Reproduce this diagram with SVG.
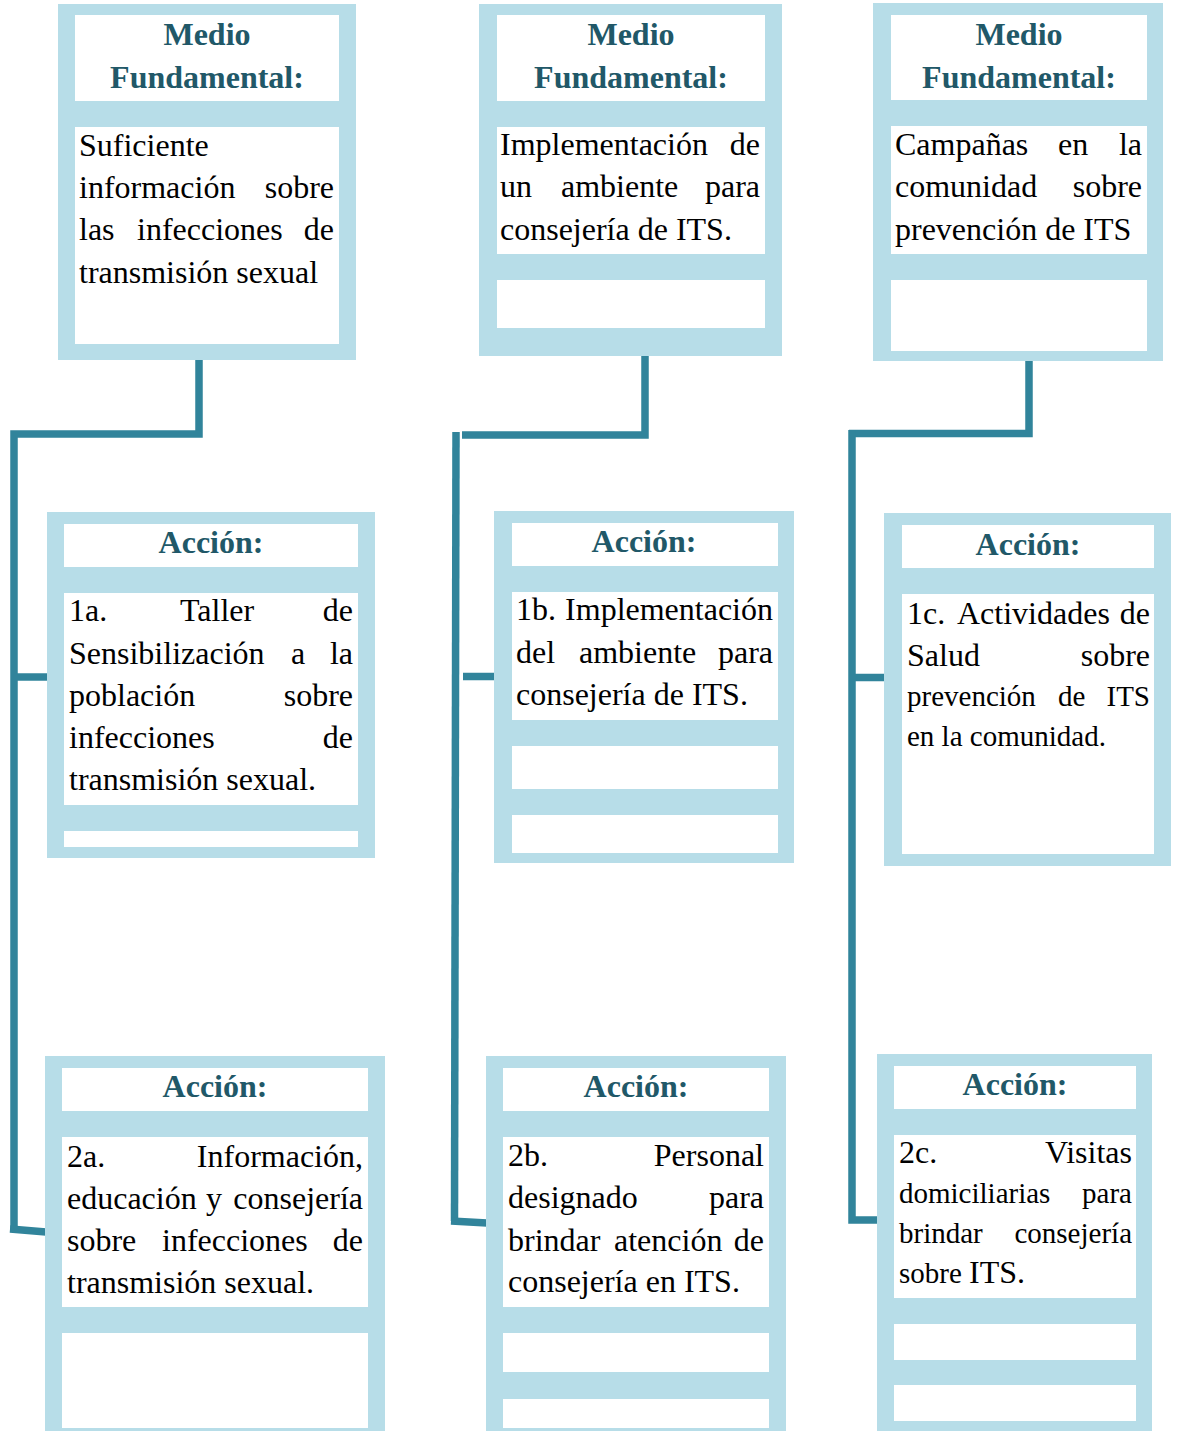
<svg xmlns="http://www.w3.org/2000/svg" width="1177" height="1431" viewBox="0 0 1177 1431">
<style>
.frame{fill:#B7DDE8}
.cell{fill:#FFFFFF}
.ttl{font-family:"Liberation Serif","Times New Roman",serif;font-weight:bold;font-size:32px;fill:#215868;text-anchor:middle}
.t{font-family:"Liberation Serif","Times New Roman",serif;font-size:32px;fill:#000}
.s{font-size:29px}
.e{text-anchor:end}
.conn{fill:none;stroke:#31849B;stroke-width:7.5;stroke-linecap:butt;stroke-linejoin:miter}
</style>
<rect width="1177" height="1431" fill="#FFFFFF"/>

<g id="connectors">
  <path class="conn" d="M199,360 V434 H14 V1229"/>
  <path class="conn" d="M10,1229 L46,1232"/>
  <path class="conn" d="M14,677 H49"/>
  <path class="conn" d="M645,356 V435 H462"/>
  <path class="conn" d="M456,432 L454.5,1221"/>
  <path class="conn" d="M451,1221 L487,1223"/>
  <path class="conn" d="M463,676.5 H499"/>
  <path class="conn" d="M1029,361 V433.5 H849"/>
  <path class="conn" d="M852,430 V1220 H882"/>
  <path class="conn" d="M852,677.5 H885"/>
</g>

<g id="mf1">
  <rect class="frame" x="58" y="4" width="298" height="356"/>
  <rect class="cell" x="75" y="15" width="264" height="86"/>
  <rect class="cell" x="75" y="127" width="264" height="217"/>
  <text class="ttl" x="207" y="45">Medio</text>
  <text class="ttl" x="207" y="88">Fundamental:</text>
  <text class="t" x="79" y="156">Suficiente</text>
  <text class="t" x="79" y="198">información</text><text class="t e" x="334" y="198">sobre</text>
  <text class="t" x="79" y="240">las</text><text class="t" x="137" y="240">infecciones</text><text class="t e" x="334" y="240">de</text>
  <text class="t" x="79" y="283">transmisión sexual</text>
</g>

<g id="mf2">
  <rect class="frame" x="479" y="4" width="303" height="352"/>
  <rect class="cell" x="497" y="15" width="268" height="86"/>
  <rect class="cell" x="497" y="127" width="268" height="127"/>
  <rect class="cell" x="497" y="280" width="268" height="48"/>
  <text class="ttl" x="631" y="45">Medio</text>
  <text class="ttl" x="631" y="88">Fundamental:</text>
  <text class="t" x="500" y="155">Implementación</text><text class="t e" x="760" y="155">de</text>
  <text class="t" x="500" y="197">un</text><text class="t" x="561" y="197">ambiente</text><text class="t e" x="760" y="197">para</text>
  <text class="t" x="500" y="240">consejería de ITS.</text>
</g>

<g id="mf3">
  <rect class="frame" x="873" y="3" width="290" height="358"/>
  <rect class="cell" x="891" y="15" width="256" height="85"/>
  <rect class="cell" x="891" y="126" width="256" height="128"/>
  <rect class="cell" x="891" y="280" width="256" height="71"/>
  <text class="ttl" x="1019" y="45">Medio</text>
  <text class="ttl" x="1019" y="88">Fundamental:</text>
  <text class="t" x="895" y="155">Campañas</text><text class="t" x="1058" y="155">en</text><text class="t e" x="1142" y="155">la</text>
  <text class="t" x="895" y="197">comunidad</text><text class="t e" x="1142" y="197">sobre</text>
  <text class="t" x="895" y="240">prevención de ITS</text>
</g>

<g id="a1a">
  <rect class="frame" x="47" y="512" width="328" height="346"/>
  <rect class="cell" x="64" y="524" width="294" height="43"/>
  <rect class="cell" x="64" y="593" width="294" height="212"/>
  <rect class="cell" x="64" y="831" width="294" height="16"/>
  <text class="ttl" x="211" y="553">Acción:</text>
  <text class="t" x="69" y="621">1a.</text><text class="t" x="180" y="621">Taller</text><text class="t e" x="353" y="621">de</text>
  <text class="t" x="69" y="664">Sensibilización</text><text class="t" x="291" y="664">a</text><text class="t e" x="353" y="664">la</text>
  <text class="t" x="69" y="706">población</text><text class="t e" x="353" y="706">sobre</text>
  <text class="t" x="69" y="748">infecciones</text><text class="t e" x="353" y="748">de</text>
  <text class="t" x="69" y="790">transmisión sexual.</text>
</g>

<g id="a1b">
  <rect class="frame" x="494" y="511" width="300" height="352"/>
  <rect class="cell" x="512" y="523" width="266" height="43"/>
  <rect class="cell" x="512" y="592" width="266" height="128"/>
  <rect class="cell" x="512" y="746" width="266" height="43"/>
  <rect class="cell" x="512" y="815" width="266" height="38"/>
  <text class="ttl" x="644" y="552">Acción:</text>
  <text class="t" x="516" y="620">1b.</text><text class="t e" x="773" y="620">Implementación</text>
  <text class="t" x="516" y="663">del</text><text class="t" x="579" y="663">ambiente</text><text class="t e" x="773" y="663">para</text>
  <text class="t" x="516" y="705">consejería de ITS.</text>
</g>

<g id="a1c">
  <rect class="frame" x="884" y="513" width="287" height="353"/>
  <rect class="cell" x="902" y="525" width="252" height="43"/>
  <rect class="cell" x="902" y="594" width="252" height="260"/>
  <text class="ttl" x="1028" y="555">Acción:</text>
  <text class="t" x="907" y="624">1c.</text><text class="t" x="957" y="624">Actividades</text><text class="t e" x="1150" y="624">de</text>
  <text class="t" x="907" y="666">Salud</text><text class="t e" x="1150" y="666">sobre</text>
  <text class="t s" x="907" y="706">prevención</text><text class="t s" x="1058" y="706">de</text><text class="t s e" x="1150" y="706">ITS</text>
  <text class="t s" x="907" y="746">en la comunidad.</text>
</g>

<g id="a2a">
  <rect class="frame" x="45" y="1056" width="340" height="380"/>
  <rect class="cell" x="62" y="1068" width="306" height="43"/>
  <rect class="cell" x="62" y="1137" width="306" height="170"/>
  <rect class="cell" x="62" y="1333" width="306" height="95"/>
  <text class="ttl" x="215" y="1097">Acción:</text>
  <text class="t" x="67" y="1167">2a.</text><text class="t e" x="363" y="1167">Información,</text>
  <text class="t" x="67" y="1209">educación</text><text class="t" x="206" y="1209">y</text><text class="t e" x="363" y="1209">consejería</text>
  <text class="t" x="67" y="1251">sobre</text><text class="t" x="162" y="1251">infecciones</text><text class="t e" x="363" y="1251">de</text>
  <text class="t" x="67" y="1293">transmisión sexual.</text>
</g>

<g id="a2b">
  <rect class="frame" x="486" y="1056" width="300" height="380"/>
  <rect class="cell" x="503" y="1068" width="266" height="43"/>
  <rect class="cell" x="503" y="1137" width="266" height="170"/>
  <rect class="cell" x="503" y="1333" width="266" height="39"/>
  <rect class="cell" x="503" y="1399" width="266" height="29"/>
  <text class="ttl" x="636" y="1097">Acción:</text>
  <text class="t" x="508" y="1166">2b.</text><text class="t e" x="764" y="1166">Personal</text>
  <text class="t" x="508" y="1208">designado</text><text class="t e" x="764" y="1208">para</text>
  <text class="t" x="508" y="1251">brindar</text><text class="t" x="614" y="1251">atención</text><text class="t e" x="764" y="1251">de</text>
  <text class="t" x="508" y="1292">consejería en ITS.</text>
</g>

<g id="a2c">
  <rect class="frame" x="877" y="1054" width="275" height="382"/>
  <rect class="cell" x="894" y="1066" width="242" height="43"/>
  <rect class="cell" x="894" y="1135" width="242" height="163"/>
  <rect class="cell" x="894" y="1324" width="242" height="36"/>
  <rect class="cell" x="894" y="1385" width="242" height="36"/>
  <text class="ttl" x="1015" y="1095">Acción:</text>
  <text class="t" x="899" y="1163">2c.</text><text class="t e" x="1132" y="1163">Visitas</text>
  <text class="t s" x="899" y="1203">domiciliarias</text><text class="t s e" x="1132" y="1203">para</text>
  <text class="t s" x="899" y="1243">brindar</text><text class="t s e" x="1132" y="1243">consejería</text>
  <text class="t" x="899" y="1283"><tspan class="s">sobre </tspan>ITS.</text>
</g>
</svg>
